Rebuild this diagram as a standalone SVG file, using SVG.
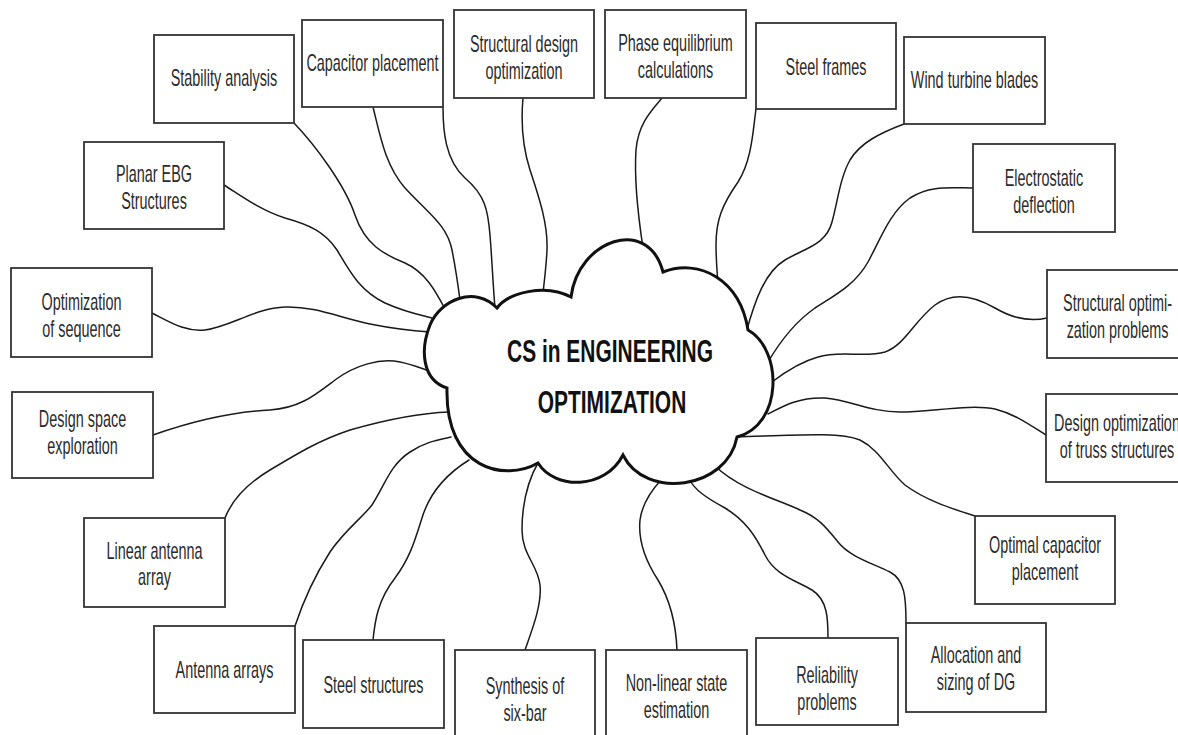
<svg xmlns="http://www.w3.org/2000/svg" width="1178" height="735" viewBox="0 0 1178 735">
  <style>
    .box { fill: #fff; stroke: #333; stroke-width: 1.8; }
    .t { font-family: "Liberation Sans", Arial, sans-serif; font-size: 23px; fill: #2b2b2b; text-anchor: middle; }
    .title { font-family: "Liberation Sans", Arial, sans-serif; font-size: 32px; font-weight: bold; fill: #111; text-anchor: middle; }
    .c { fill: none; stroke: #1a1a1a; stroke-width: 1.5; stroke-linecap: round; }
    .cloud { fill: #fff; stroke: #111; stroke-width: 3; stroke-linejoin: miter; }
  </style>
  <rect width="1178" height="735" fill="#fff"/>

  <!-- wavy connectors from each topic box to the central cloud -->
  <g id="connectors">
    <path class="c" d="M294,123 C315,145 345,185 355,215 C365,245 385,255 405,263 C425,272 435,290 445,309"/>
    <path class="c" d="M373,107 C380,135 385,165 405,188 C430,215 447,225 452,250 C456,270 458,285 460,300"/>
    <path class="c" d="M443,107 C443,130 445,160 465,178 C485,195 488,210 490,235 C492,260 493,285 495,308"/>
    <path class="c" d="M523,98 C521,120 522,145 530,170 C540,200 548,225 547,250 C546,270 544,282 543,294"/>
    <path class="c" d="M662,98 C650,112 638,125 636,150 C634,180 638,215 643,248"/>
    <path class="c" d="M756,109 C753,130 752,160 738,182 C722,205 716,220 716,245 C716,260 717,270 718,284"/>
    <path class="c" d="M904,124 C880,133 860,143 850,160 C840,178 838,200 832,222 C826,245 805,248 785,260 C765,272 755,300 746,333"/>
    <path class="c" d="M973,188 C950,188 930,185 910,198 C890,212 880,240 868,262 C855,285 835,295 815,308 C795,322 778,345 768,362"/>
    <path class="c" d="M1047,318 C1030,322 1012,318 995,308 C978,298 955,290 935,305 C915,320 905,345 885,352 C865,358 840,350 818,357 C800,362 785,372 772,382"/>
    <path class="c" d="M1046,435 C1030,425 1015,414 995,409 C970,404 930,412 900,412 C870,412 850,400 825,398 C800,397 785,405 768,414"/>
    <path class="c" d="M975,516 C950,508 925,500 905,485 C888,470 880,450 860,440 C840,432 800,435 736,437"/>
    <path class="c" d="M906,623 C906,598 905,580 890,572 C872,563 850,557 838,542 C828,530 820,518 800,510 C780,500 740,490 715,466"/>
    <path class="c" d="M828,638 C828,620 828,600 812,590 C795,580 775,575 765,555 C755,535 745,520 725,508 C705,497 695,490 689,479"/>
    <path class="c" d="M677,650 C676,625 670,600 658,580 C645,560 638,540 640,520 C642,505 650,492 661,480"/>
    <path class="c" d="M525,650 C532,630 542,605 540,585 C538,565 522,555 522,530 C522,505 528,480 539,461"/>
    <path class="c" d="M373,640 C375,620 378,600 395,578 C410,558 415,540 422,518 C428,498 440,478 469,460"/>
    <path class="c" d="M295,626 C302,605 312,580 330,552 C345,530 360,520 372,505 C385,485 390,465 410,452 C425,442 437,440 451,437"/>
    <path class="c" d="M225,518 C232,500 245,485 270,470 C300,452 320,440 350,430 C385,420 420,413 449,412"/>
    <path class="c" d="M153,435 C190,422 230,412 270,410 C300,408 315,395 335,380 C355,365 380,358 400,362 C415,365 425,370 433,372"/>
    <path class="c" d="M152,313 C170,322 185,332 205,330 C230,327 255,308 285,307 C315,306 340,318 370,324 C395,329 415,331 430,332"/>
    <path class="c" d="M224,185 C240,195 260,210 285,218 C310,225 325,232 337,250 C348,268 358,290 385,303 C405,312 420,315 432,318"/>
  </g>

  <!-- central cloud -->
  <g id="center">
    <path class="cloud" d="M497,308 C508,293 545,283 571,297 C578,240 648,215 663,272 C700,258 740,280 748,330 C783,350 783,425 737,437 C727,490 645,500 623,455 C605,490 555,490 538,463 C505,482 445,470 447,388 C422,380 420,350 430,325 C440,300 475,285 497,308 Z"/>
    <text class="title" transform="translate(610,362) scale(0.655,1)">CS in ENGINEERING</text>
    <text class="title" transform="translate(612,413) scale(0.655,1)">OPTIMIZATION</text>
  </g>

  <!-- topic boxes -->
  <g id="stability-analysis">
    <rect class="box" x="154" y="35" width="140" height="88"/>
    <text class="t" transform="translate(224,86) scale(0.627,1)">Stability analysis</text>
  </g>
  <g id="capacitor-placement">
    <rect class="box" x="302" y="20" width="141" height="87"/>
    <text class="t" transform="translate(372.5,71) scale(0.627,1)">Capacitor placement</text>
  </g>
  <g id="structural-design-optimization">
    <rect class="box" x="454" y="10" width="140" height="88"/>
    <text class="t" transform="translate(524,0) scale(0.627,1)"><tspan x="0" y="52">Structural design</tspan><tspan x="0" y="79">optimization</tspan></text>
  </g>
  <g id="phase-equilibrium">
    <rect class="box" x="605" y="10" width="141" height="88"/>
    <text class="t" transform="translate(675.5,0) scale(0.627,1)"><tspan x="0" y="51">Phase equilibrium</tspan><tspan x="0" y="78">calculations</tspan></text>
  </g>
  <g id="steel-frames">
    <rect class="box" x="756" y="23" width="140" height="86"/>
    <text class="t" transform="translate(826,75) scale(0.627,1)">Steel frames</text>
  </g>
  <g id="wind-turbine-blades">
    <rect class="box" x="904" y="37" width="141" height="87"/>
    <text class="t" transform="translate(974.5,88) scale(0.627,1)">Wind turbine blades</text>
  </g>
  <g id="planar-ebg">
    <rect class="box" x="84" y="142" width="140" height="87"/>
    <text class="t" transform="translate(154,0) scale(0.627,1)"><tspan x="0" y="182">Planar EBG</tspan><tspan x="0" y="209">Structures</tspan></text>
  </g>
  <g id="electrostatic-deflection">
    <rect class="box" x="973" y="144" width="142" height="88"/>
    <text class="t" transform="translate(1044,0) scale(0.627,1)"><tspan x="0" y="186">Electrostatic</tspan><tspan x="0" y="213">deflection</tspan></text>
  </g>
  <g id="optimization-of-sequence">
    <rect class="box" x="11" y="268" width="141" height="89"/>
    <text class="t" transform="translate(81.5,0) scale(0.627,1)"><tspan x="0" y="310">Optimization</tspan><tspan x="0" y="337">of sequence</tspan></text>
  </g>
  <g id="structural-optimization-problems">
    <rect class="box" x="1047" y="270" width="141" height="88"/>
    <text class="t" transform="translate(1117.5,0) scale(0.627,1)"><tspan x="0" y="311">Structural optimi-</tspan><tspan x="0" y="338">zation problems</tspan></text>
  </g>
  <g id="design-space-exploration">
    <rect class="box" x="12" y="392" width="141" height="86"/>
    <text class="t" transform="translate(82.5,0) scale(0.627,1)"><tspan x="0" y="427">Design space</tspan><tspan x="0" y="454">exploration</tspan></text>
  </g>
  <g id="truss-structures">
    <rect class="box" x="1046" y="394" width="142" height="88"/>
    <text class="t" transform="translate(1117,0) scale(0.627,1)"><tspan x="0" y="431">Design optimization</tspan><tspan x="0" y="458">of truss structures</tspan></text>
  </g>
  <g id="linear-antenna-array">
    <rect class="box" x="84" y="518" width="141" height="89"/>
    <text class="t" transform="translate(154.5,0) scale(0.627,1)"><tspan x="0" y="559">Linear antenna</tspan><tspan x="0" y="585">array</tspan></text>
  </g>
  <g id="optimal-capacitor-placement">
    <rect class="box" x="975" y="516" width="140" height="88"/>
    <text class="t" transform="translate(1045,0) scale(0.627,1)"><tspan x="0" y="553">Optimal capacitor</tspan><tspan x="0" y="580">placement</tspan></text>
  </g>
  <g id="antenna-arrays">
    <rect class="box" x="154" y="626" width="141" height="87"/>
    <text class="t" transform="translate(224.5,678) scale(0.627,1)">Antenna arrays</text>
  </g>
  <g id="steel-structures">
    <rect class="box" x="303" y="640" width="141" height="88"/>
    <text class="t" transform="translate(373.5,693) scale(0.627,1)">Steel structures</text>
  </g>
  <g id="synthesis-six-bar">
    <rect class="box" x="455" y="650" width="140" height="90"/>
    <text class="t" transform="translate(525,0) scale(0.627,1)"><tspan x="0" y="694">Synthesis of</tspan><tspan x="0" y="721">six-bar</tspan></text>
  </g>
  <g id="non-linear-state-estimation">
    <rect class="box" x="606" y="650" width="141" height="90"/>
    <text class="t" transform="translate(676.5,0) scale(0.627,1)"><tspan x="0" y="691">Non-linear state</tspan><tspan x="0" y="718">estimation</tspan></text>
  </g>
  <g id="reliability-problems">
    <rect class="box" x="756" y="638" width="142" height="87"/>
    <text class="t" transform="translate(827,0) scale(0.627,1)"><tspan x="0" y="683">Reliability</tspan><tspan x="0" y="710">problems</tspan></text>
  </g>
  <g id="allocation-sizing-dg">
    <rect class="box" x="906" y="623" width="140" height="89"/>
    <text class="t" transform="translate(976,0) scale(0.627,1)"><tspan x="0" y="663">Allocation and</tspan><tspan x="0" y="690">sizing of DG</tspan></text>
  </g>
</svg>
